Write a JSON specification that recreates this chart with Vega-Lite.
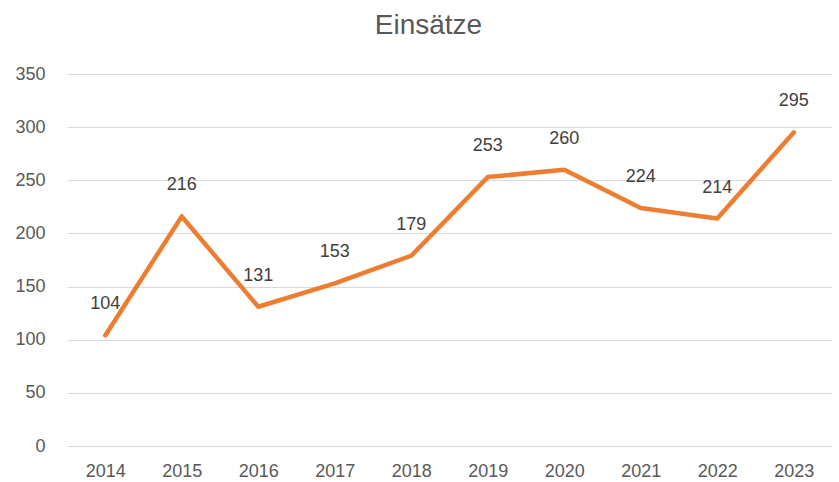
{
  "$schema": "https://vega.github.io/schema/vega-lite/v6.json",
  "width": 765,
  "height": 372,
  "autosize": "none",
  "padding": {"left": 67, "top": 74, "right": 7, "bottom": 36},
  "background": "white",
  "title": {"text": "Einsätze", "font": "Liberation Sans", "fontSize": 28, "fontWeight": "normal", "color": "#595959", "anchor": "middle", "dx": -21, "offset": 25},
  "config": {"view": {"stroke": null}},
  "data": {"values": [
    {"year": "2014", "value": 104},
    {"year": "2015", "value": 216},
    {"year": "2016", "value": 131},
    {"year": "2017", "value": 153},
    {"year": "2018", "value": 179},
    {"year": "2019", "value": 253},
    {"year": "2020", "value": 260},
    {"year": "2021", "value": 224},
    {"year": "2022", "value": 214},
    {"year": "2023", "value": 295}
  ]},
  "encoding": {
    "x": {"field": "year", "type": "ordinal", "title": null,
      "scale": {"paddingInner": 0, "paddingOuter": 0.5},
      "axis": {"labelAngle": 0, "domain": false, "ticks": false, "labelPadding": 16, "labelFont": "Liberation Sans", "labelFontSize": 18, "labelColor": "#595959"}},
    "y": {"field": "value", "type": "quantitative", "title": null,
      "scale": {"domain": [0, 350]},
      "axis": {"values": [0, 50, 100, 150, 200, 250, 300, 350], "domain": false, "ticks": false, "labelPadding": 22, "gridColor": "#d9d9d9", "gridWidth": 1.2, "labelFont": "Liberation Sans", "labelFontSize": 18, "labelColor": "#595959"}}
  },
  "layer": [
    {"mark": {"type": "line", "color": "#ED7D31", "strokeWidth": 4.5, "strokeCap": "round", "strokeJoin": "round"}},
    {"mark": {"type": "text", "dy": -31, "baseline": "middle", "font": "Liberation Sans", "fontSize": 18, "color": "#404040"},
     "encoding": {"text": {"field": "value", "type": "quantitative"}}}
  ]
}
